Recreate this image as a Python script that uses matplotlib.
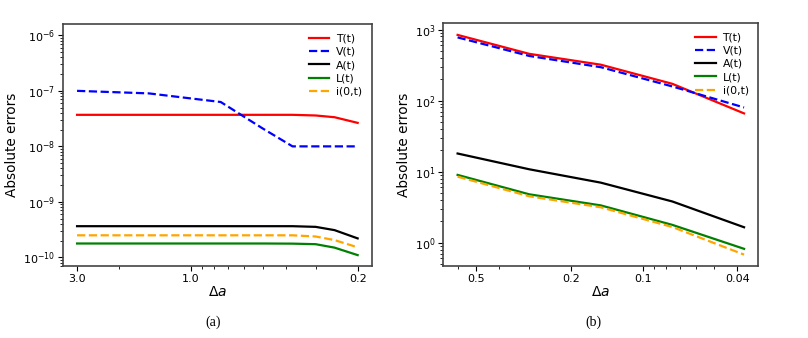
import matplotlib
matplotlib.use("Agg")
import matplotlib.pyplot as plt
from matplotlib.ticker import FixedLocator, FixedFormatter, NullFormatter

# Panel (a) data
da_a = [3.0, 1.5, 1.0, 0.75, 0.5, 0.375, 0.3, 0.25, 0.2]
T_a = [3.7e-8, 3.7e-8, 3.7e-8, 3.7e-8, 3.7e-8, 3.7e-8, 3.6e-8, 3.35e-8, 2.65e-8]
V_a = [1.0e-7, 9.0e-8, 7.3e-8, 6.3e-8, 2.1e-8, 1.0e-8, 1.0e-8, 1.0e-8, 1.0e-8]
A_a = [3.65e-10, 3.65e-10, 3.65e-10, 3.65e-10, 3.65e-10, 3.65e-10, 3.55e-10, 3.1e-10, 2.2e-10]
L_a = [1.78e-10, 1.78e-10, 1.78e-10, 1.78e-10, 1.78e-10, 1.77e-10, 1.73e-10, 1.5e-10, 1.1e-10]
I_a = [2.5e-10, 2.5e-10, 2.5e-10, 2.5e-10, 2.5e-10, 2.5e-10, 2.38e-10, 2.05e-10, 1.52e-10]
xticks_a = [3.0, 1.0, 0.2]
xticklabels_a = ["3.0", "1.0", "0.2"]

# Panel (b) data
da_b = [0.6, 0.3, 0.15, 0.075, 0.0375]
T_b = [840, 455, 320, 172, 66]
V_b = [775, 425, 295, 158, 80]
A_b = [18.0, 10.8, 7.0, 3.8, 1.65]
L_b = [9.0, 4.8, 3.35, 1.78, 0.82]
I_b = [8.5, 4.5, 3.15, 1.66, 0.68]
xticks_b = [0.5, 0.2, 0.1, 0.04]
xticklabels_b = ["0.5", "0.2", "0.1", "0.04"]

labels = ["T(t)", "V(t)", "A(t)", "L(t)", "i(0,t)"]
colors = ["red", "blue", "black", "green", "orange"]
styles = ["-", "--", "-", "-", "--"]

fig = plt.figure(figsize=(8.08, 3.38), dpi=100)
ax1 = fig.add_axes([0.078, 0.213, 0.382, 0.716])
ax2 = fig.add_axes([0.5486, 0.213, 0.39, 0.72])

def draw(ax, x, ys, xt, xtl):
    for y, lab, c, ls in zip(ys, labels, colors, styles):
        ax.plot(x, y, ls, color=c, lw=1.6, label=lab)
    ax.set_xscale("log")
    ax.set_yscale("log")
    ax.invert_xaxis()
    ax.xaxis.set_major_locator(FixedLocator(xt))
    ax.xaxis.set_major_formatter(FixedFormatter(xtl))
    ax.xaxis.set_minor_formatter(NullFormatter())
    ax.set_xlabel(r"$\Delta a$", fontsize=10, labelpad=1)
    ax.set_ylabel("Absolute errors", fontsize=9.8, labelpad=3)
    ax.tick_params(which="major", labelsize=8, pad=2, length=3.5)
    ax.tick_params(which="minor", length=2)
    for s in ax.spines.values():
        s.set_color("#444444")
        s.set_linewidth(1.2)
    ax.legend(loc="upper right", frameon=False, fontsize=7.8, handlelength=1.9,
              labelspacing=0.3, handletextpad=0.6)

draw(ax1, da_a, [T_a, V_a, A_a, L_a, I_a], xticks_a, xticklabels_a)
ax1.set_ylim(7e-11, 1.6e-6)
draw(ax2, da_b, [T_b, V_b, A_b, L_b, I_b], xticks_b, xticklabels_b)
ax2.set_ylim(0.47, 1250)

fig.text(0.264, 0.047, "(a)", ha="center", va="center", family="Liberation Serif", fontsize=10)
fig.text(0.734, 0.047, "(b)", ha="center", va="center", family="Liberation Serif", fontsize=10)

fig.savefig("out.png", dpi=100)
